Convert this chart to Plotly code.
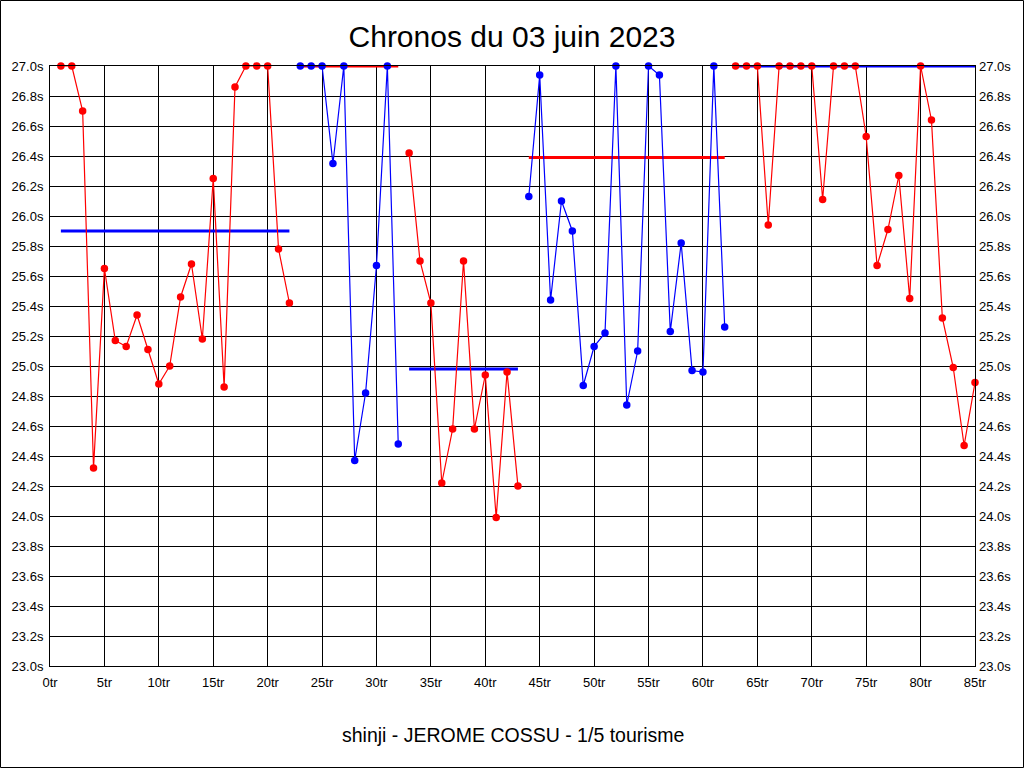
import plotly.graph_objects as go

# ---- data ----
laps = list(range(1, 86))
times = [
    27.0, 27.0, 26.70, 24.32, 25.65, 25.17, 25.13, 25.34, 25.11, 24.88,
    25.00, 25.46, 25.68, 25.18, 26.25, 24.86, 26.86, 27.0, 27.0, 27.0,
    25.78, 25.42, 27.0, 27.0, 27.0, 26.35, 27.0, 24.37, 24.82, 25.67,
    27.0, 24.48, 26.42, 25.70, 25.42, 24.22, 24.58, 25.70, 24.58, 24.94,
    23.99, 24.96, 24.20, 26.13, 26.94, 25.44, 26.10, 25.90, 24.87, 25.13,
    25.22, 27.0, 24.74, 25.10, 27.0, 26.94, 25.23, 25.82, 24.97, 24.96,
    27.0, 25.26, 27.0, 27.0, 27.0, 25.94, 27.0, 27.0, 27.0, 27.0,
    26.11, 27.0, 27.0, 27.0, 26.53, 25.67, 25.91, 26.27, 25.45, 27.0,
    26.64, 25.32, 24.99, 24.47, 24.89,
]
segment_start = [1, 23, 33, 44, 63]
segment_end = [22, 32, 43, 62, 85]
segment_avg = [25.90, 27.0, 24.98, 26.39, 27.0]
segment_color = ["#FF0000", "#0000FF", "#FF0000", "#0000FF", "#FF0000"]
avg_color = ["#0000FF", "#FF0000", "#0000FF", "#FF0000", "#0000FF"]

x_ticks = list(range(0, 90, 5))
x_labels = [f"{v}tr" for v in x_ticks]
y_ticks = [round(23.0 + 0.2 * i, 1) for i in range(21)]
y_labels = [f"{v:.1f}s" for v in y_ticks]

title_text = "Chronos du 03 juin 2023"
footer_text = "shinji - JEROME COSSU - 1/5 tourisme"

fig = go.Figure()

# average lines
for s, e, a, c in zip(segment_start, segment_end, segment_avg, avg_color):
    fig.add_trace(go.Scatter(x=[s, e], y=[a, a], mode="lines",
                             line=dict(color=c, width=3), cliponaxis=False,
                             showlegend=False, hoverinfo="skip"))

# lap time segments
for s, e, c in zip(segment_start, segment_end, segment_color):
    xs = laps[s - 1:e]
    ys = times[s - 1:e]
    fig.add_trace(go.Scatter(x=xs, y=ys, mode="lines+markers",
                             line=dict(color=c, width=1.2),
                             marker=dict(color=c, size=7.5),
                             cliponaxis=False, showlegend=False))

# invisible trace for right axis
fig.add_trace(go.Scatter(x=[0], y=[23], yaxis="y2", mode="markers",
                         marker=dict(opacity=0), showlegend=False, hoverinfo="skip"))

tick_font = dict(family="Liberation Sans, Arial", size=13, color="black")

fig.update_layout(
    width=1024, height=768,
    margin=dict(l=50, r=49, t=66, b=102),
    paper_bgcolor="white", plot_bgcolor="white",
    title=dict(text=title_text, x=0.5, xanchor="center", y=1 - 36 / 768, yanchor="middle",
               font=dict(family="Liberation Sans, Arial", size=30, color="black")),
    xaxis=dict(range=[0, 85], tickvals=x_ticks, ticktext=x_labels,
               showgrid=True, gridcolor="black", gridwidth=1,
               showline=True, linecolor="black", linewidth=1, mirror=True,
               ticks="", ticklabelstandoff=4,
               tickfont=tick_font, zeroline=False, fixedrange=True),
    yaxis=dict(range=[23, 27], tickvals=y_ticks, ticktext=y_labels,
               showgrid=True, gridcolor="black", gridwidth=1,
               showline=True, linecolor="black", linewidth=1, mirror=True,
               ticks="", ticklabelstandoff=3,
               tickfont=tick_font, zeroline=False, fixedrange=True),
    yaxis2=dict(range=[23, 27], tickvals=y_ticks, ticktext=y_labels,
                overlaying="y", side="right", showgrid=False,
                ticks="", ticklabelstandoff=3,
                tickfont=tick_font, zeroline=False, fixedrange=True),
    annotations=[dict(text=footer_text, xref="paper", yref="paper",
                      x=0.5, y=(666 - 735) / 600, xanchor="center", yanchor="middle",
                      showarrow=False,
                      font=dict(family="Liberation Sans, Arial", size=19.5, color="black"))],
    shapes=[dict(type="rect", xref="paper", yref="paper",
                 x0=-49.5 / 925, x1=1 + 48.5 / 925, y0=-101.5 / 600, y1=1 + 65.5 / 600,
                 line=dict(color="black", width=1))],
)

fig.write_html("out.html", config={"displayModeBar": False},
               post_script="document.body.style.margin='0';document.body.style.overflow='hidden';")
